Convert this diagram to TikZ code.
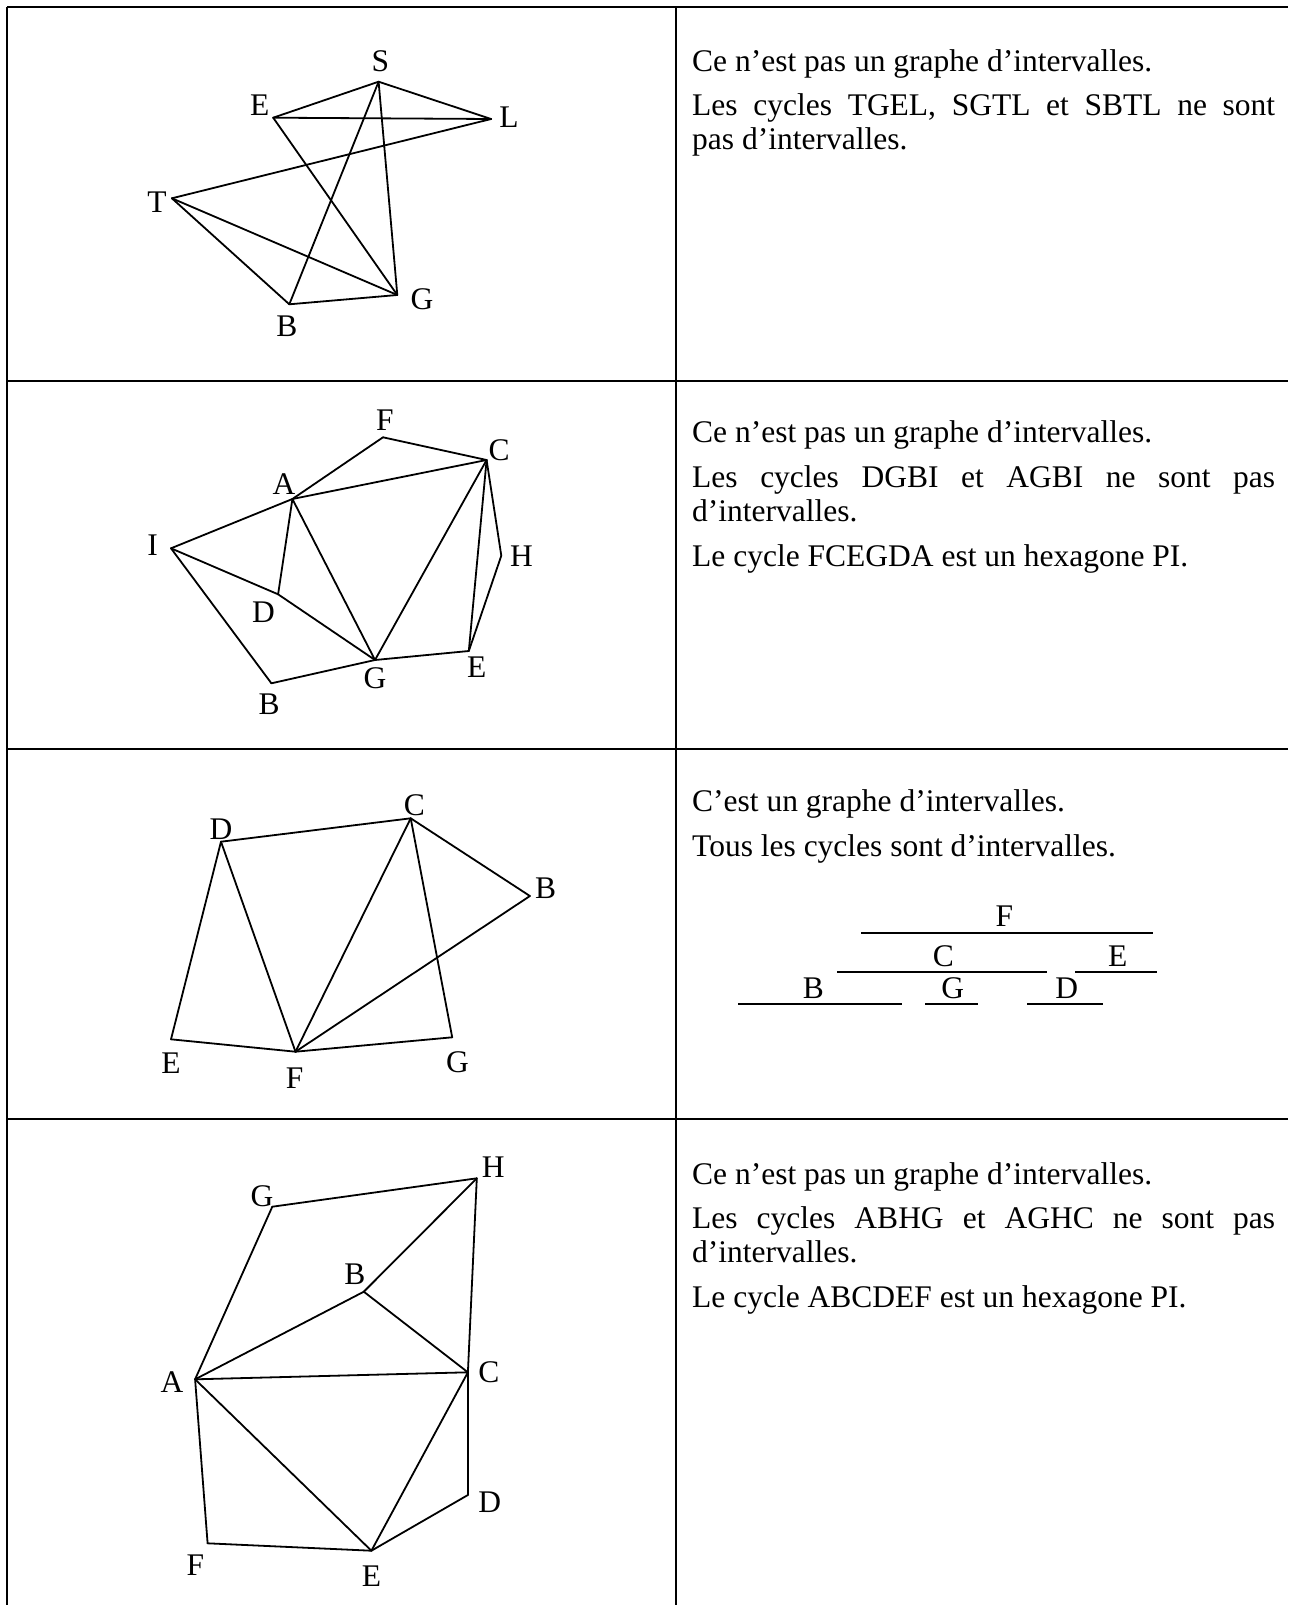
\documentclass[tikz,border=0pt]{standalone}
\usepackage{fontspec}
\setmainfont{Liberation Serif}
\newcommand\bodyfont{\fontsize{31.5}{36}\selectfont}
\tikzset{
  tbl/.style={line width=2.2pt},
  edge/.style={line width=1.8pt, line join=round, line cap=round},
  ivl/.style={line width=2pt},
  lab/.style={font=\bodyfont, inner sep=0pt},
  txt/.style={font=\bodyfont, inner sep=0pt, anchor=base west},
  ilab/.style={font=\bodyfont, inner sep=0pt, anchor=base},
}
\begin{document}
\begin{tikzpicture}[x=1pt,y=-1pt]
\useasboundingbox (0,0) rectangle (1288,1605);
% ---------- table ----------
\coordinate (tl) at (7,7);
\coordinate (tr) at (1288,7);
\coordinate (bl) at (7,1605);
\coordinate (dt) at (675.7,7);
\coordinate (db) at (675.7,1605);
\coordinate (r1l) at (7,380.7);   \coordinate (r1r) at (1288,380.7);
\coordinate (r2l) at (7,749.3);   \coordinate (r2r) at (1288,749.3);
\coordinate (r3l) at (7,1119);    \coordinate (r3r) at (1288,1119);
\draw[tbl] (tl) -- (tr);
\draw[tbl] (tl) -- (bl);
\draw[tbl] (dt) -- (db);
\draw[tbl] (r1l) -- (r1r);
\draw[tbl] (r2l) -- (r2r);
\draw[tbl] (r3l) -- (r3r);

% ---------- graph 1 ----------
\coordinate (aS) at (378.6,81.7);
\coordinate (aE) at (273.2,117.7);
\coordinate (aL) at (491.1,119);
\coordinate (aT) at (171.9,198.3);
\coordinate (aG) at (397.3,295);
\coordinate (aB) at (289.3,304.3);
\draw[edge] (aS) -- (aE);
\draw[edge] (aS) -- (aL);
\draw[edge] (aE) -- (aL);
\draw[edge] (aL) -- (aT);
\draw[edge] (aE) -- (aG);
\draw[edge] (aS) -- (aB);
\draw[edge] (aS) -- (aG);
\draw[edge] (aT) -- (aB);
\draw[edge] (aT) -- (aG);
\draw[edge] (aB) -- (aG);
\node[lab] (laS) at (380.4,61.7) {S};
\node[lab] (laE) at (259.8,105) {E};
\node[lab] (laL) at (508.9,117.3) {L};
\node[lab] (laT) at (157.1,202.3) {T};
\node[lab] (laG) at (421.9,299) {G};
\node[lab] (laB) at (287,326.7) {B};

% ---------- graph 2 ----------
\coordinate (bF) at (383,437.3);
\coordinate (bC) at (486.6,460);
\coordinate (bA) at (292.4,499);
\coordinate (bI) at (171,548.3);
\coordinate (bH) at (501.3,555.7);
\coordinate (bD) at (278.1,594.3);
\coordinate (bG) at (375,660);
\coordinate (bE) at (468.8,651);
\coordinate (bB) at (271.4,683.3);
\draw[edge] (bF) -- (bA);
\draw[edge] (bF) -- (bC);
\draw[edge] (bA) -- (bC);
\draw[edge] (bA) -- (bI);
\draw[edge] (bA) -- (bD);
\draw[edge] (bA) -- (bG);
\draw[edge] (bC) -- (bG);
\draw[edge] (bC) -- (bE);
\draw[edge] (bC) -- (bH);
\draw[edge] (bH) -- (bE);
\draw[edge] (bE) -- (bG);
\draw[edge] (bG) -- (bB);
\draw[edge] (bG) -- (bD);
\draw[edge] (bI) -- (bD);
\draw[edge] (bI) -- (bB);
\node[lab] (lbF) at (384.8,420) {F};
\node[lab] (lbC) at (499.1,450) {C};
\node[lab] (lbA) at (284,484.3) {A};
\node[lab] (lbI) at (152.7,545) {I};
\node[lab] (lbH) at (521.4,555.7) {H};
\node[lab] (lbD) at (263.4,612.3) {D};
\node[lab] (lbG) at (375,678.3) {G};
\node[lab] (lbE) at (476.8,666.7) {E};
\node[lab] (lbB) at (269.2,704) {B};

% ---------- graph 3 ----------
\coordinate (cC) at (410.7,818.3);
\coordinate (cD) at (221,841.7);
\coordinate (cB) at (529.9,896);
\coordinate (cE) at (171,1039.3);
\coordinate (cF) at (295.5,1051.7);
\coordinate (cG) at (452.2,1037.3);
\draw[edge] (cD) -- (cC);
\draw[edge] (cD) -- (cE);
\draw[edge] (cD) -- (cF);
\draw[edge] (cC) -- (cF);
\draw[edge] (cC) -- (cG);
\draw[edge] (cC) -- (cB);
\draw[edge] (cB) -- (cF);
\draw[edge] (cE) -- (cF);
\draw[edge] (cF) -- (cG);
\node[lab] (lcC) at (414.3,805) {C};
\node[lab] (lcD) at (221,829.3) {D};
\node[lab] (lcB) at (545.5,888.3) {B};
\node[lab] (lcE) at (171,1063.3) {E};
\node[lab] (lcF) at (294.6,1078.3) {F};
\node[lab] (lcG) at (457.6,1062.7) {G};

% ---------- graph 4 ----------
\coordinate (dH) at (476.8,1178.3);
\coordinate (dG) at (272.3,1206.7);
\coordinate (dB) at (363.8,1291.7);
\coordinate (dC) at (467.9,1372.3);
\coordinate (dA) at (195.1,1379.3);
\coordinate (dD) at (467.9,1495);
\coordinate (dF) at (207.6,1543.3);
\coordinate (dE) at (371.4,1550.7);
\draw[edge] (dG) -- (dH);
\draw[edge] (dG) -- (dA);
\draw[edge] (dH) -- (dB);
\draw[edge] (dH) -- (dC);
\draw[edge] (dB) -- (dA);
\draw[edge] (dB) -- (dC);
\draw[edge] (dA) -- (dC);
\draw[edge] (dA) -- (dF);
\draw[edge] (dA) -- (dE);
\draw[edge] (dC) -- (dE);
\draw[edge] (dC) -- (dD);
\draw[edge] (dD) -- (dE);
\draw[edge] (dF) -- (dE);
\node[lab] (ldH) at (493.3,1166.7) {H};
\node[lab] (ldG) at (262,1196) {G};
\node[lab] (ldB) at (354.9,1274.3) {B};
\node[lab] (ldC) at (488.8,1372.3) {C};
\node[lab] (ldA) at (171.9,1381.7) {A};
\node[lab] (ldD) at (489.7,1501.7) {D};
\node[lab] (ldF) at (195.5,1565) {F};
\node[lab] (ldE) at (371.4,1576) {E};

% ---------- right column texts ----------
\node[txt] (t11) at (692,72) {Ce n’est pas un graphe d’intervalles.};
\node[txt] (t12) at (692,116) {\hbox to 583pt{Les cycles TGEL, SGTL et SBTL ne sont}};
\node[txt] (t13) at (692,150) {pas d’intervalles.};

\node[txt] (t21) at (692,442) {Ce n’est pas un graphe d’intervalles.};
\node[txt] (t22) at (692,487) {\hbox to 583pt{Les cycles DGBI et AGBI ne sont pas}};
\node[txt] (t23) at (692,521) {d’intervalles.};
\node[txt] (t24) at (692,566) {Le cycle FCEGDA est un hexagone PI.};

\node[txt] (t31) at (692,811) {C’est un graphe d’intervalles.};
\node[txt] (t32) at (692,856) {Tous les cycles sont d’intervalles.};

\node[txt] (t41) at (692,1184) {Ce n’est pas un graphe d’intervalles.};
\node[txt] (t42) at (692,1228) {\hbox to 583pt{Les cycles ABHG et AGHC ne sont pas}};
\node[txt] (t43) at (692,1262) {d’intervalles.};
\node[txt] (t44) at (692,1307) {Le cycle ABCDEF est un hexagone PI.};

% ---------- intervals ----------
\coordinate (iF1) at (861,933);    \coordinate (iF2) at (1153,933);
\coordinate (iC1) at (837,971.7);  \coordinate (iC2) at (1047,971.7);
\coordinate (iE1) at (1075,971.7); \coordinate (iE2) at (1157,971.7);
\coordinate (iB1) at (738,1004);   \coordinate (iB2) at (902,1004);
\coordinate (iG1) at (925,1004);   \coordinate (iG2) at (978,1004);
\coordinate (iD1) at (1027,1004);  \coordinate (iD2) at (1103,1004);
\draw[ivl] (iF1) -- (iF2);
\draw[ivl] (iC1) -- (iC2);
\draw[ivl] (iE1) -- (iE2);
\draw[ivl] (iB1) -- (iB2);
\draw[ivl] (iG1) -- (iG2);
\draw[ivl] (iD1) -- (iD2);
\node[ilab] (liF) at (1004.3,926) {F};
\node[ilab] (liC) at (943.3,966) {C};
\node[ilab] (liE) at (1117.7,966) {E};
\node[ilab] (liB) at (813.3,998) {B};
\node[ilab] (liG) at (952.7,998) {G};
\node[ilab] (liD) at (1066.7,998) {D};
\end{tikzpicture}
\end{document}
